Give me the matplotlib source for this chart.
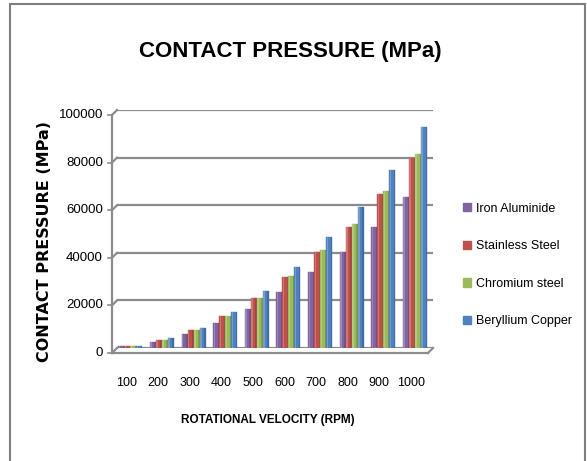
import matplotlib
matplotlib.use("Agg")
import matplotlib.pyplot as plt
from matplotlib.lines import Line2D
from matplotlib.patches import Rectangle, Patch
from matplotlib.transforms import offset_copy
import numpy as np

plt.rcParams["font.family"] = ["Liberation Sans", "DejaVu Sans"]

speeds = ["100", "200", "300", "400", "500", "600", "700", "800", "900", "1000"]
iron_aluminide = [700, 2700, 6000, 10500, 16400, 23500, 32000, 40300, 51000, 63500]
stainless_steel = [850, 3400, 7400, 13300, 20800, 29800, 40400, 51000, 64700, 80000]
chromium_steel = [850, 3400, 7500, 13600, 21200, 30200, 41100, 51900, 65800, 81700]
beryllium_copper = [1000, 4000, 8600, 15200, 23900, 34200, 46600, 59100, 74900, 92900]
series_names = ["Iron Aluminide", "Stainless Steel", "Chromium steel", "Beryllium Copper"]
yticks = [0, 20000, 40000, 60000, 80000, 100000]

COLORS = ["#8064A2", "#C0504D", "#9BBB59", "#4F81BD"]
GRID = "#8C8C8C"

W, H = 587, 461
fig = plt.figure(figsize=(W / 100, H / 100), dpi=100)
ax = fig.add_axes([117 / W, (H - 348) / H, (433 - 117) / W, (348 - 110) / H])

series = [iron_aluminide, stainless_steel, chromium_steel, beryllium_copper]
x = np.arange(len(speeds))
bw = 0.19
for i, (vals, col) in enumerate(zip(series, COLORS)):
    pos = x + (i - 1.5) * bw
    ax.bar(pos, vals, bw, color=col, edgecolor=col, lw=0.3, zorder=3)
    # cylinder shading: light strip on the left, darker on the right
    ax.bar(pos - bw * 0.3, vals, bw * 0.25, color="white", alpha=0.22, lw=0, zorder=4)
    ax.bar(pos + bw * 0.38, vals, bw * 0.24, color="black", alpha=0.15, lw=0, zorder=4)

ax.set_xlim(-0.42, 9.57)
ax.set_ylim(0, 100000)
for s in ax.spines.values():
    s.set_visible(False)
ax.set_yticks(yticks)
ax.set_xticks([])
ax.tick_params(axis="y", length=0, labelleft=False)
ax.grid(axis="y", color=GRID, lw=1.6, zorder=1)

# 3-D style: front edges sit 5 px left/below the back wall
front = offset_copy(ax.transAxes, fig=fig, x=-5, y=-5, units="dots")
ytr = ax.get_yaxis_transform()
ytr_front = offset_copy(ytr, fig=fig, x=-5, y=-5, units="dots")
ylab_tr = offset_copy(ytr, fig=fig, x=-14, y=-5, units="dots")
xlab_tr = offset_copy(ax.get_xaxis_transform(), fig=fig, x=-4, y=-35, units="dots")

for v in yticks:
    p0 = ytr.transform((0, v))
    p1 = ytr_front.transform((0, v))
    fig.add_artist(Line2D([p0[0], p1[0]], [p0[1], p1[1]], transform=None, color=GRID, lw=1.6))
    fig.add_artist(Line2D([p1[0], p1[0] - 4], [p1[1], p1[1]], transform=None, color=GRID, lw=1.2))
    ax.text(0, v, f"{v}", transform=ylab_tr, ha="right", va="center", fontsize=9.5)

for xi, lab in zip(x, speeds):
    ax.text(xi, 0, lab, transform=xlab_tr, ha="center", va="center", fontsize=9)

ax.add_line(Line2D([0, 0], [0, 1], transform=front, color=GRID, lw=1.6, clip_on=False))
ax.add_line(Line2D([0, 1], [0, 0], transform=front, color=GRID, lw=1.6, clip_on=False))
p0 = ax.transAxes.transform((1, 0))
p1 = front.transform((1, 0))
fig.add_artist(Line2D([p0[0], p1[0]], [p0[1], p1[1]], transform=None, color=GRID, lw=1.6))

fig.text(290 / W, 1 - 51 / H, "CONTACT PRESSURE (MPa)", ha="center", va="center",
         fontsize=16, fontweight="bold")
fig.text(268 / W, 1 - 420 / H, "ROTATIONAL VELOCITY (RPM)", ha="center", va="center",
         fontsize=8.5, fontweight="bold")
fig.text(45 / W, 1 - 241 / H, "CONTACT PRESSURE (MPa)", ha="center", va="center",
         rotation=90, fontsize=11.5, fontweight="bold", family="DejaVu Sans")

handles = [Patch(color=c) for c in COLORS]
fig.legend(handles, series_names, loc="center left", bbox_to_anchor=(452 / W, 1 - 265 / H),
           frameon=False, fontsize=9, handlelength=0.65, handleheight=0.65,
           handletextpad=0.35, labelspacing=2.05)

fig.add_artist(Rectangle((10 / W, -0.1), (585 - 10) / W, 1.1 - 4 / H, transform=fig.transFigure,
                         fill=False, edgecolor="#7F7F7F", lw=1.5))

fig.savefig("out.png", dpi=100, facecolor="white")
